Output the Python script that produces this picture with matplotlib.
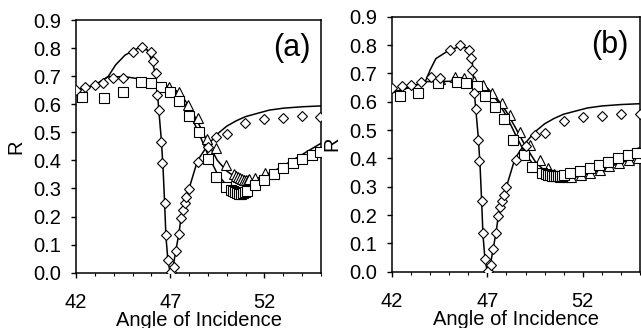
import matplotlib
matplotlib.use("Agg")
import matplotlib.pyplot as plt
from matplotlib.ticker import MultipleLocator, FormatStrFormatter

plt.rcParams['font.family'] = ['Liberation Sans', 'DejaVu Sans']

# ---- panel (a) ----
dia_x_a = [42.0, 42.5, 43.0, 43.45, 43.95, 44.5, 45.0, 45.5, 45.98, 46.1, 46.22, 46.3, 46.38,
           46.53, 46.58, 46.7, 46.76, 46.88, 47.03, 47.18, 47.32, 47.46, 47.58, 47.67, 47.76,
           47.85, 47.98, 48.48, 49.0, 49.45, 50.0, 50.98, 52.0, 53.0, 54.0, 54.95]
dia_y_a = [0.652, 0.66, 0.667, 0.675, 0.692, 0.692, 0.785, 0.803, 0.785, 0.755, 0.71, 0.634, 0.578,
           0.467, 0.39, 0.247, 0.134, 0.045, 0.004, 0.022, 0.078, 0.137, 0.196, 0.224, 0.248,
           0.271, 0.298, 0.395, 0.447, 0.484, 0.493, 0.532, 0.546, 0.55, 0.558, 0.556]

dia_fit_x_a = [42.0, 43.0, 43.7, 44.1, 44.6, 45.3, 45.8, 46.05, 46.23, 46.33, 46.53, 46.62, 46.7,
               46.77, 46.88, 47.0, 47.15, 47.3, 47.46, 47.58, 48.0, 48.45, 49.0, 49.5, 50.0, 50.5,
               51.0, 52.25, 53.0, 54.0, 55.0]
dia_fit_y_a = [0.65, 0.668, 0.698, 0.74, 0.775, 0.8, 0.793, 0.75, 0.704, 0.63, 0.47, 0.37, 0.25,
               0.13, 0.04, 0.0, 0.02, 0.08, 0.14, 0.2, 0.3, 0.4, 0.455, 0.494, 0.522, 0.541,
               0.556, 0.579, 0.586, 0.591, 0.594]

sq_x_a = [42.3, 43.5, 44.5, 45.45, 46.0, 46.5, 47.0, 47.48, 47.98, 48.5, 49.0, 49.45, 49.95,
          50.25, 50.35, 50.45, 50.55, 50.65, 50.75, 50.85, 50.95, 51.05, 51.5, 52.0, 52.5,
          53.0, 53.5, 54.0, 54.5, 54.95]
sq_y_a = [0.627, 0.621, 0.643, 0.678, 0.675, 0.662, 0.643, 0.612, 0.557, 0.5, 0.406, 0.341, 0.304,
          0.296, 0.29, 0.286, 0.283, 0.282, 0.282, 0.284, 0.287, 0.292, 0.312, 0.33, 0.353,
          0.372, 0.39, 0.405, 0.419, 0.431]

tri_x_a = [46.95, 47.45, 47.95, 48.45, 48.95, 49.45, 49.95,
           50.4, 50.5, 50.6, 50.7, 50.8, 50.9, 51.0, 51.1, 51.2, 51.5, 52.05]
tri_y_a = [0.662, 0.643, 0.597, 0.55, 0.475, 0.443, 0.384,
           0.352, 0.345, 0.34, 0.336, 0.333, 0.331, 0.33, 0.331, 0.333, 0.336, 0.354]

tri_fit_x_a = [42.0, 43.0, 43.7, 44.6, 45.2, 45.9, 46.7, 47.2, 47.6, 48.0, 48.5, 49.0, 49.5, 50.0,
               50.5, 51.0, 51.5, 52.0, 52.5, 53.0, 53.5, 54.0, 54.5, 55.0]
tri_fit_y_a = [0.65, 0.668, 0.698, 0.698, 0.692, 0.68, 0.668, 0.655, 0.632, 0.592, 0.532, 0.462,
               0.4, 0.362, 0.338, 0.328, 0.332, 0.347, 0.362, 0.381, 0.401, 0.421, 0.441, 0.461]
sq_fit_x_a = [46.7, 47.2, 47.6, 48.0, 48.5, 49.0, 49.5, 50.0, 50.5, 51.0, 51.5, 52.0, 52.5]
sq_fit_y_a = [0.668, 0.652, 0.622, 0.572, 0.5, 0.42, 0.352, 0.31, 0.29, 0.288, 0.305, 0.33, 0.358]

# ---- panel (b) ----
dia_x_b = [42.0, 42.5, 43.0, 43.5, 44.05, 44.5, 45.05, 45.55, 46.02, 46.15, 46.22, 46.3, 46.42,
           46.53, 46.58, 46.7, 46.76, 46.88, 47.03, 47.18, 47.32, 47.46, 47.58, 47.67, 47.76,
           47.85, 47.98, 48.48, 49.0, 49.5, 50.0, 51.0, 52.0, 53.0, 54.0, 55.0]
dia_y_b = [0.65, 0.657, 0.66, 0.671, 0.688, 0.685, 0.783, 0.8, 0.782, 0.755, 0.712, 0.632, 0.576,
           0.465, 0.39, 0.248, 0.135, 0.046, 0.004, 0.024, 0.08, 0.138, 0.196, 0.228, 0.25,
           0.27, 0.298, 0.395, 0.445, 0.484, 0.491, 0.532, 0.546, 0.55, 0.555, 0.557]

dia_fit_x_b = [42.0, 43.0, 43.75, 44.0, 44.3, 44.9, 45.5, 45.93, 46.2, 46.32, 46.53, 46.62, 46.7,
               46.77, 46.88, 47.0, 47.15, 47.3, 47.46, 47.58, 48.0, 48.45, 49.0, 49.5, 50.0, 50.5,
               51.0, 52.25, 53.0, 54.0, 55.0]
dia_fit_y_b = [0.632, 0.652, 0.672, 0.712, 0.752, 0.778, 0.794, 0.79, 0.752, 0.63, 0.47, 0.37, 0.25,
               0.13, 0.04, 0.0, 0.02, 0.08, 0.14, 0.2, 0.3, 0.4, 0.455, 0.494, 0.522, 0.541,
               0.556, 0.578, 0.585, 0.59, 0.593]

sq_x_b = [42.4, 43.35, 44.4, 45.4, 45.9, 46.45, 46.9, 47.4, 47.85, 48.35, 48.9, 49.35, 49.85,
          50.1, 50.2, 50.3, 50.4, 50.5, 50.6, 50.7, 50.8, 50.9, 51.0, 51.35, 51.85, 52.38,
          52.87, 53.35, 53.87, 54.39, 54.85]
sq_y_b = [0.62, 0.63, 0.665, 0.668, 0.665, 0.655, 0.62, 0.582, 0.54, 0.465, 0.412, 0.37, 0.347,
          0.344, 0.342, 0.34, 0.338, 0.337, 0.337, 0.337, 0.338, 0.339, 0.341, 0.347, 0.357,
          0.367, 0.377, 0.388, 0.4, 0.413, 0.418]

tri_x_b = [44.5, 45.3, 45.8, 46.3, 46.79, 47.23, 47.75, 48.19, 48.71, 49.24, 49.76, 50.2,
           50.5, 50.8, 51.1, 51.4, 51.9, 52.4, 52.9, 53.4, 53.9, 54.4, 54.9]
tri_y_b = [0.68, 0.688, 0.683, 0.672, 0.659, 0.63, 0.594, 0.553, 0.494, 0.447, 0.394, 0.365,
           0.345, 0.336, 0.333, 0.334, 0.34, 0.349, 0.36, 0.372, 0.383, 0.393, 0.402]

tri_fit_x_b = [42.0, 43.0, 43.75, 44.6, 45.5, 46.5, 47.0, 47.5, 48.0, 48.5, 49.0, 49.5, 50.0,
               50.5, 51.0, 51.5, 52.0, 52.5, 53.0, 53.5, 54.0, 54.5, 55.0]
tri_fit_y_b = [0.632, 0.652, 0.671, 0.672, 0.672, 0.668, 0.648, 0.612, 0.565, 0.505, 0.443,
               0.39, 0.356, 0.337, 0.33, 0.332, 0.34, 0.35, 0.361, 0.373, 0.385, 0.395, 0.405]
sq_fit_x_b = [46.5, 47.0, 47.5, 48.0, 48.5, 49.0, 49.5, 50.0, 50.5, 51.0, 51.5, 52.0, 52.5,
              53.0, 53.5, 54.0, 54.5, 55.0]
sq_fit_y_b = [0.668, 0.645, 0.605, 0.55, 0.48, 0.415, 0.37, 0.345, 0.335, 0.335, 0.342, 0.354,
              0.368, 0.383, 0.398, 0.413, 0.426, 0.438]

x_ticks = [42, 47, 52]
y_ticks = [0.0, 0.1, 0.2, 0.3, 0.4, 0.5, 0.6, 0.7, 0.8, 0.9]
panel_tags = ['(a)', '(b)']

fig = plt.figure(figsize=(6.41, 3.28), dpi=100)
ax_a = fig.add_axes([0.1186, 0.1686, 0.3822, 0.7704])
ax_b = fig.add_axes([0.6115, 0.1716, 0.3869, 0.7774])

panels = [
    (ax_a, dia_x_a, dia_y_a, dia_fit_x_a, dia_fit_y_a, sq_x_a, sq_y_a, tri_x_a, tri_y_a,
     tri_fit_x_a, tri_fit_y_a, sq_fit_x_a, sq_fit_y_a),
    (ax_b, dia_x_b, dia_y_b, dia_fit_x_b, dia_fit_y_b, sq_x_b, sq_y_b, tri_x_b, tri_y_b,
     tri_fit_x_b, tri_fit_y_b, sq_fit_x_b, sq_fit_y_b),
]

mk = dict(markerfacecolor='white', markeredgecolor='black', markeredgewidth=0.8, linestyle='none')

for i, (ax, dx, dy, dfx, dfy, sx, sy, tx, ty, tfx, tfy, sfx, sfy) in enumerate(panels):
    ax.plot(tfx, tfy, color='black', lw=1.1, zorder=2)
    ax.plot(sfx, sfy, color='black', lw=1.1, zorder=2)
    ax.plot(dfx, dfy, color='black', lw=1.1, zorder=2)
    ax.plot(tx, ty, marker='^', markersize=6.8, zorder=3, **mk)
    ax.plot(sx, sy, marker='s', markersize=6.5, zorder=4, **mk)
    ax.plot(dx, dy, marker='D', markersize=5.0, zorder=5, **mk)

    ax.set_xlim(42, 55)
    ax.set_ylim(0, 0.9)
    ax.set_xticks(x_ticks)
    ax.xaxis.set_minor_locator(MultipleLocator(1))
    ax.set_yticks(y_ticks)
    ax.yaxis.set_major_formatter(FormatStrFormatter('%.1f'))
    ax.tick_params(axis='x', which='major', direction='out', length=3.5, width=1, pad=11, labelsize=14.5)
    ax.tick_params(axis='x', which='minor', direction='out', length=2.5, width=0.8)
    ax.tick_params(axis='y', which='major', direction='out', length=3.5, width=1, pad=7, labelsize=14.5)
    for sp in ax.spines.values():
        sp.set_linewidth(1.1)
    ax.set_xlabel('Angle of Incidence', fontsize=14.5, va='top')
    ax.xaxis.set_label_coords(0.5, -0.15)
    ax.set_ylabel('R', fontsize=14.5)
    ax.yaxis.set_label_coords(-0.205, 0.5)
    ax.text(0.88, 0.89, panel_tags[i], transform=ax.transAxes, fontsize=22,
            ha='center', va='center')

fig.savefig('out.png', dpi=100)
